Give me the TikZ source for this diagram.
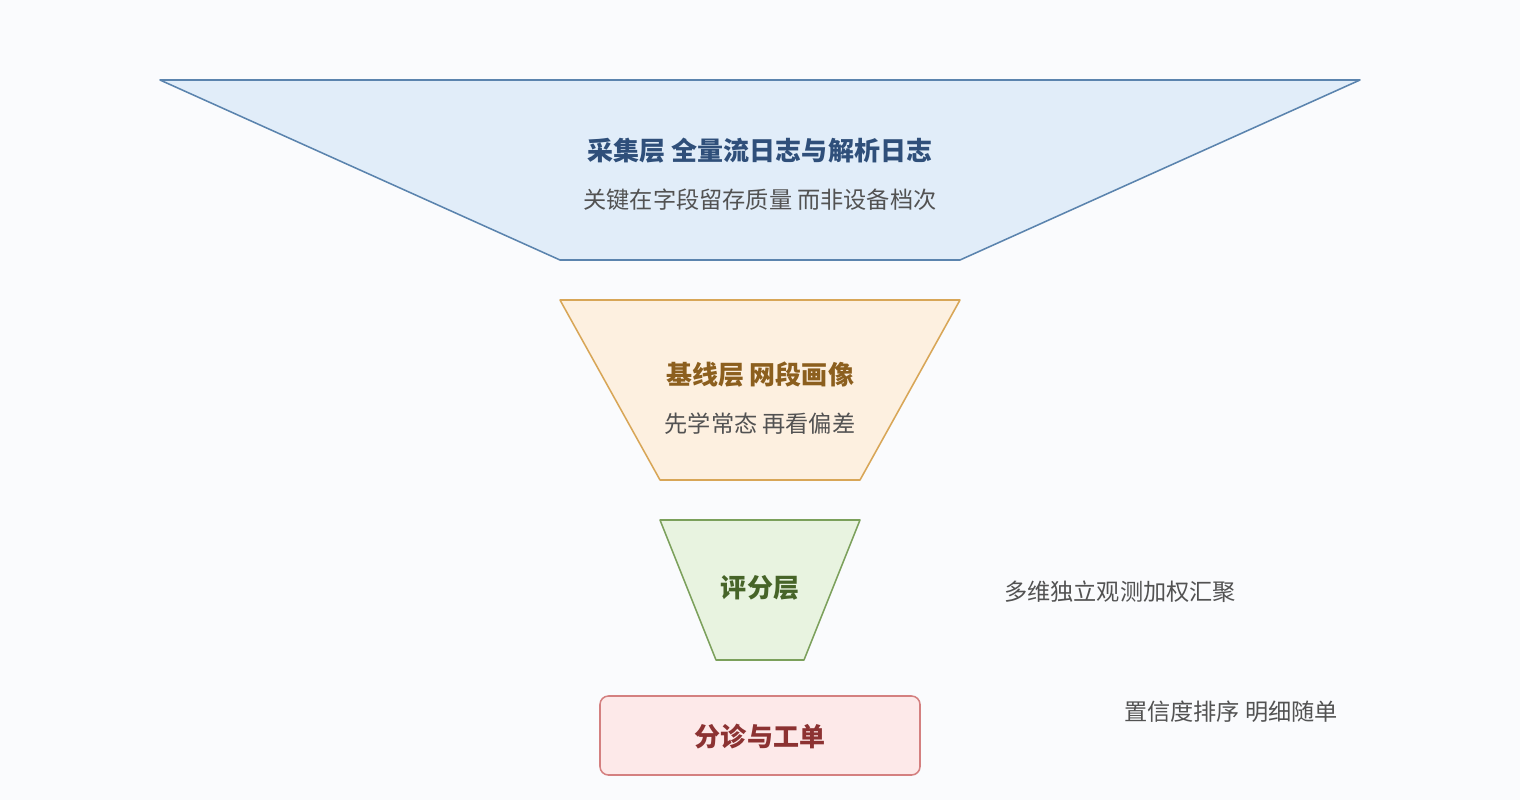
\documentclass[tikz,border=0pt]{standalone}
\usepackage{fontspec}
\setmainfont{Noto Sans CJK SC}
\begin{document}
\begin{tikzpicture}[x=0.05cm,y=-0.05cm,
 lay/.style={line width=2.2pt,line join=round},
 ttl/.style={font=\fontsize{37}{40}\selectfont\bfseries},
 sub/.style={font=\fontsize{33}{36}\selectfont,text=black!68}]
\definecolor{bg}{HTML}{FAFBFD}
\fill[bg] (0,0) rectangle (1520,800);
\draw[lay,draw={rgb,255:red,91;green,132;blue,174},fill={rgb,255:red,225;green,237;blue,249}] (160,80)--(1360,80)--(960,260)--(560,260)--cycle;
\draw[lay,draw={rgb,255:red,216;green,166;blue,87},fill={rgb,255:red,253;green,240;blue,224}] (560,300)--(960,300)--(860,480)--(660,480)--cycle;
\draw[lay,draw={rgb,255:red,123;green,160;blue,91},fill={rgb,255:red,232;green,243;blue,224}] (660,520)--(860,520)--(804,660)--(716,660)--cycle;
\draw[lay,rounded corners=12pt,draw={rgb,255:red,212;green,128;blue,128},fill={rgb,255:red,253;green,233;blue,233}] (600,696) rectangle (920,775);
\node[ttl,text={rgb,255:red,47;green,79;blue,122}] (t1) at (760,151) {采集层 全量流日志与解析日志};
\node[sub] (s1) at (760,200) {关键在字段留存质量 而非设备档次};
\node[ttl,text={rgb,255:red,140;green,95;blue,30}] (t2) at (760,375) {基线层 网段画像};
\node[sub] (s2) at (760,424) {先学常态 再看偏差};
\node[ttl,text={rgb,255:red,70;green,100;blue,40}] (t3) at (760,588) {评分层};
\node[ttl,text={rgb,255:red,140;green,50;blue,50}] (t4) at (760,737) {分诊与工单};
\node[sub] (r1) at (1120,592) {多维独立观测加权汇聚};
\node[sub] (r2) at (1231,712) {置信度排序 明细随单};
\end{tikzpicture}
\end{document}
